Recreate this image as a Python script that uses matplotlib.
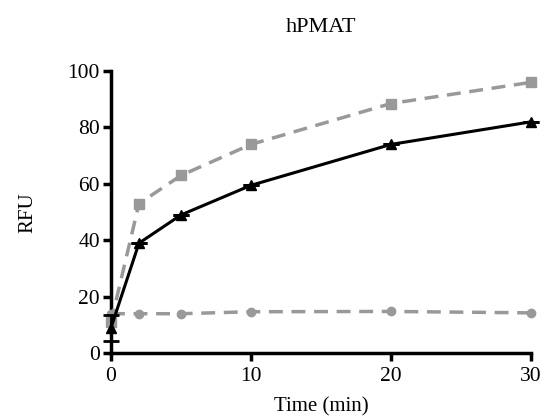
import matplotlib.pyplot as plt

plt.rcParams['font.family'] = ['Liberation Serif', 'DejaVu Serif']

temps = [0, 2, 5, 10, 20, 30]
carres = [11, 53, 63, 74, 88.5, 96]
triangles = [9, 39, 49, 59.5, 74, 82]
triangles_err = [4.5, 0, 0, 0, 0, 0]
cercles = [14, 14, 14, 14.7, 14.8, 14.3]

fig = plt.figure(figsize=(5.44, 4.18), dpi=100)
ax = fig.add_axes([0.204, 0.155, 0.772, 0.675])

gris = "#999999"
ax.plot(temps, cercles, linestyle="--", color=gris, marker="o", markersize=6,
        linewidth=2.5, dashes=(4, 2.5), clip_on=False, zorder=3)
ax.plot(temps, carres, linestyle="--", color=gris, marker="s", markersize=7,
        linewidth=2.5, dashes=(4, 2.5), clip_on=False, zorder=3)
ax.errorbar(temps, triangles, yerr=triangles_err, color="black", marker="^",
            markersize=7, linewidth=2.2, capsize=6, capthick=2, elinewidth=2,
            clip_on=False, zorder=4)

ax.set_xlim(0, 30)
ax.set_ylim(0, 100)
ax.set_xticks([0, 10, 20, 30])
ax.set_yticks([0, 20, 40, 60, 80, 100])
ax.spines["top"].set_visible(False)
ax.spines["right"].set_visible(False)
ax.spines["left"].set_linewidth(2.5)
ax.spines["bottom"].set_linewidth(2.5)
ax.tick_params(direction="out", length=6, width=2.5, labelsize=15.5, pad=2)
ax.tick_params(axis="x", pad=4)

ax.set_xlabel("Time (min)", fontsize=15, labelpad=8)
ax.set_ylabel("RFU", fontsize=15, labelpad=22)
ax.set_title("hPMAT", fontsize=16, pad=28)

plt.savefig("out.png", dpi=100)
